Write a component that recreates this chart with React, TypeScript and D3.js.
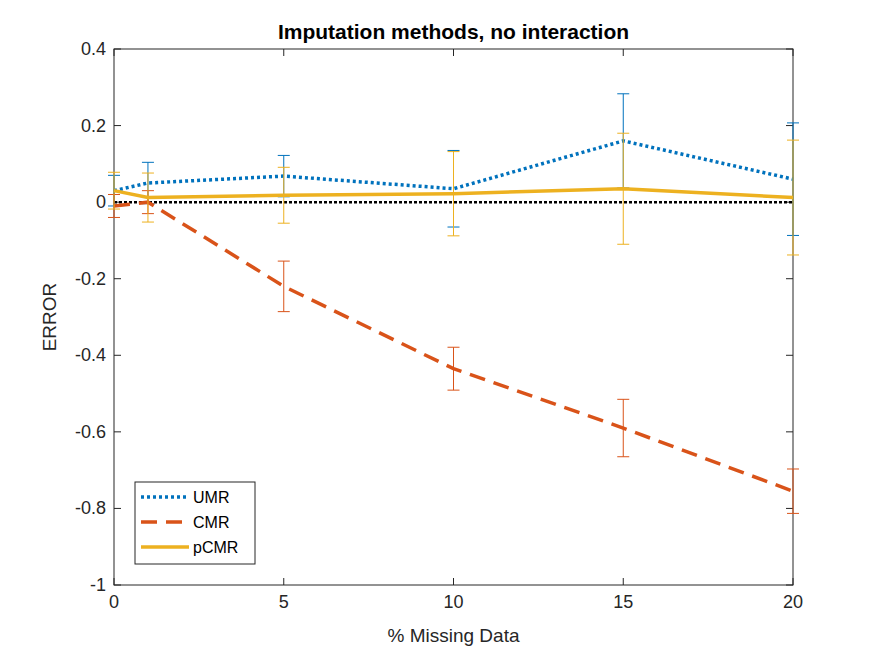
import React from 'react'
import * as d3 from 'd3'

const xs = [0, 1, 5, 10, 15, 20]
const umr = [0.03, 0.05, 0.068, 0.035, 0.16, 0.06]
const umrErr = [0.04, 0.054, 0.054, 0.1, 0.123, 0.147]
const cmr = [-0.01, 0.0, -0.22, -0.435, -0.59, -0.755]
const cmrErr = [0.03, 0.03, 0.066, 0.056, 0.075, 0.058]
const pcmr = [0.03, 0.012, 0.018, 0.022, 0.035, 0.012]
const pcmrErr = [0.048, 0.064, 0.073, 0.11, 0.145, 0.15]
const xTicks = [0, 5, 10, 15, 20]
const yTicks = [-1, -0.8, -0.6, -0.4, -0.2, 0, 0.2, 0.4]

const series = [
  { name: 'UMR', y: umr, err: umrErr, color: '#0072BD', dash: '3,3', width: 3.5 },
  { name: 'CMR', y: cmr, err: cmrErr, color: '#D95319', dash: '16,9', width: 3.5 },
  { name: 'pCMR', y: pcmr, err: pcmrErr, color: '#EDB120', dash: '', width: 3.5 },
]

export default function App() {
  const L = 114, R = 793, T = 49, B = 585
  const x = d3.scaleLinear().domain([0, 20]).range([L, R])
  const y = d3.scaleLinear().domain([-1, 0.4]).range([B, T])
  const line = d3.line<number>().x((_, i) => x(xs[i])).y((d) => y(d))
  const font = 'Arial, Liberation Sans, sans-serif'
  const fmt = (t: number) => String(+t.toFixed(1))
  return (
    <svg width={875} height={656} style={{ position: 'absolute', left: 0, top: 0, background: '#fff' }} fontFamily={font}>
      <rect x={0} y={0} width={875} height={656} fill="#fff" />
      <rect x={L} y={T} width={R - L} height={B - T} fill="#fff" stroke="#262626" strokeWidth={1} />
      {xTicks.map((t) => (
        <g key={'x' + t}>
          <line x1={x(t)} x2={x(t)} y1={B} y2={B - 7} stroke="#262626" />
          <line x1={x(t)} x2={x(t)} y1={T} y2={T + 7} stroke="#262626" />
          <text x={x(t)} y={B + 23} fontSize={18} textAnchor="middle" fill="#262626">{t}</text>
        </g>
      ))}
      {yTicks.map((t) => (
        <g key={'y' + t}>
          <line x1={L} x2={L + 7} y1={y(t)} y2={y(t)} stroke="#262626" />
          <line x1={R} x2={R - 7} y1={y(t)} y2={y(t)} stroke="#262626" />
          <text x={L - 8} y={y(t) + 6} fontSize={18} textAnchor="end" fill="#262626">{fmt(t)}</text>
        </g>
      ))}
      <line x1={L} x2={R} y1={y(0)} y2={y(0)} stroke="#000" strokeWidth={2.5} strokeDasharray="3,2" />
      {series.map((s) => (
        <g key={s.name}>
          {xs.map((xv, i) => (
            <g key={i} stroke={s.color} strokeWidth={1}>
              <line x1={x(xv)} x2={x(xv)} y1={y(s.y[i] + s.err[i])} y2={y(s.y[i] - s.err[i])} />
              <line x1={x(xv) - 6} x2={x(xv) + 6} y1={y(s.y[i] + s.err[i])} y2={y(s.y[i] + s.err[i])} />
              <line x1={x(xv) - 6} x2={x(xv) + 6} y1={y(s.y[i] - s.err[i])} y2={y(s.y[i] - s.err[i])} />
            </g>
          ))}
          <path d={line(s.y) || ''} fill="none" stroke={s.color} strokeWidth={s.width} strokeDasharray={s.dash} />
        </g>
      ))}
      <text x={(L + R) / 2} y={39} fontSize={21} fontWeight="bold" textAnchor="middle" fill="#000">Imputation methods, no interaction</text>
      <text x={(L + R) / 2} y={642} fontSize={19} textAnchor="middle" fill="#262626">% Missing Data</text>
      <text transform={`translate(56,${(T + B) / 2}) rotate(-90)`} fontSize={19} textAnchor="middle" fill="#262626">ERROR</text>
      <g transform="translate(135,482)">
        <rect x={0} y={0} width={120} height={82} fill="#fff" stroke="#262626" />
        {series.map((s, i) => (
          <g key={s.name} transform={`translate(0,${15 + i * 25})`}>
            <line x1={6} x2={54} y1={0} y2={0} stroke={s.color} strokeWidth={s.width} strokeDasharray={s.dash} />
            <text x={58} y={6} fontSize={16} fill="#000">{s.name}</text>
          </g>
        ))}
      </g>
    </svg>
  )
}
